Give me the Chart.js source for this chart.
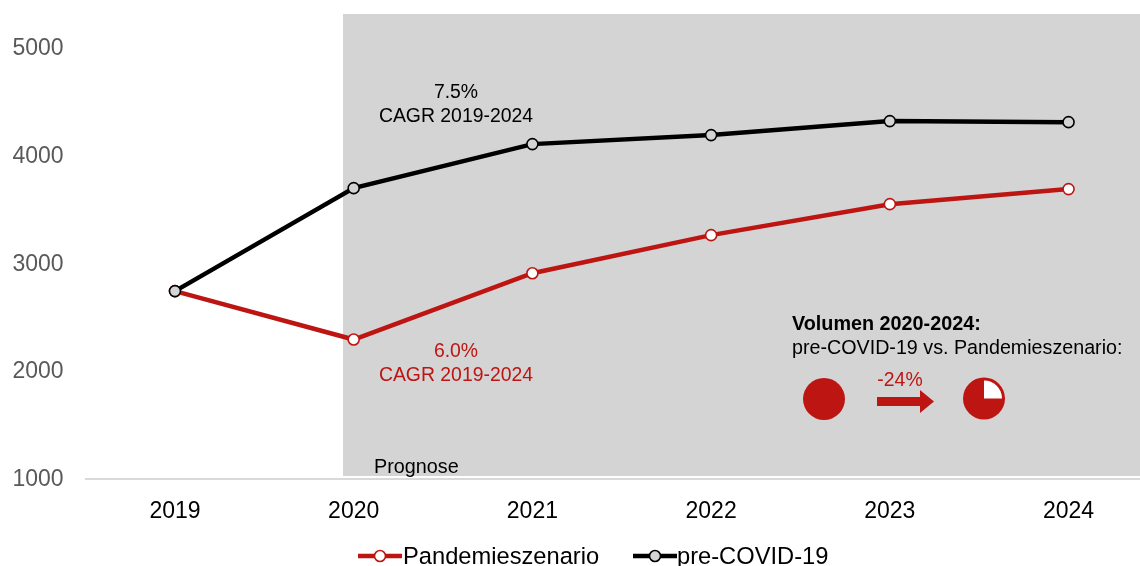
<!DOCTYPE html>
<html>
<head>
<meta charset="utf-8">
<script src="https://cdn.jsdelivr.net/npm/chart.js@4"></script>
<style>
    html, body { margin: 0; padding: 0; background: #fff; overflow: hidden; }
    #wrap { position: relative; width: 1165px; height: 566px; }
</style>
</head>
<body>
<div id="wrap"><canvas id="chart" width="1165" height="566"></canvas></div>
<script>
const years = ["2019", "2020", "2021", "2022", "2023", "2024"];
const pandemie = [2750, 2300, 2916, 3270, 3558, 3698];
const preCovid = [2750, 3707, 4116, 4200, 4330, 4320];
const yTicks = [1000, 2000, 3000, 4000, 5000];

const RED = "#bd1512";
const GREY = "#d4d4d4";
const FONT = "'Liberation Sans', Arial, sans-serif";

function label(g, text, x, y, color, align, size, weight) {
    g.font = (weight || "") + " " + size + "px " + FONT;
    g.fillStyle = color;
    g.textAlign = align;
    g.textBaseline = "middle";
    g.fillText(text, x, y);
}

// legend entry: short line, marker in the middle, then the name
function legendItem(g, ds, x, y, textX) {
    g.strokeStyle = ds.borderColor;
    g.lineWidth = ds.borderWidth;
    g.beginPath();
    g.moveTo(x, y);
    g.lineTo(x + 44, y);
    g.stroke();
    g.fillStyle = ds.pointBackgroundColor;
    g.lineWidth = ds.pointBorderWidth;
    g.beginPath();
    g.arc(x + 22, y, ds.pointRadius, 0, Math.PI * 2);
    g.fill();
    g.stroke();
    label(g, ds.label, textX, y + 1, "#000", "left", 23.7);
}

// grey forecast band goes behind the lines
const band = {
    id: "band",
    beforeDatasetsDraw(chart) {
        const g = chart.ctx;
        g.save();
        g.fillStyle = GREY;
        g.fillRect(343, 14, 822, 462);
        g.restore();
    }
};

// notes, legend and the little volume comparison on top
const notes = {
    id: "notes",
    afterDatasetsDraw(chart) {
        const g = chart.ctx;
        g.save();
        label(g, "7.5%", 456, 93, "#000", "center", 19.4);
        label(g, "CAGR 2019-2024", 456, 117, "#000", "center", 19.4);
        label(g, "6.0%", 456, 352, RED, "center", 19.4);
        label(g, "CAGR 2019-2024", 456, 376, RED, "center", 19.4);
        label(g, "Prognose", 374, 468, "#000", "left", 19.8);
        label(g, "Volumen 2020-2024:", 792, 325, "#000", "left", 19.8, "bold");
        label(g, "pre-COVID-19 vs. Pandemieszenario:", 792, 349, "#000", "left", 19.7);
        label(g, "-24%", 900, 381, RED, "center", 19.4);

        g.fillStyle = RED;
        g.beginPath();
        g.arc(824, 399, 21, 0, Math.PI * 2);
        g.fill();
        g.beginPath();
        g.arc(984, 398.5, 21, 0, Math.PI * 2);
        g.fill();
        g.fillStyle = "#fff";
        g.beginPath();
        g.moveTo(984, 398.5);
        g.arc(984, 398.5, 18, -Math.PI / 2, 0);
        g.closePath();
        g.fill();

        // arrow
        g.fillStyle = RED;
        g.beginPath();
        g.moveTo(877, 397);
        g.lineTo(920, 397);
        g.lineTo(920, 390);
        g.lineTo(934, 401.5);
        g.lineTo(920, 413);
        g.lineTo(920, 406);
        g.lineTo(877, 406);
        g.closePath();
        g.fill();

        const sets = chart.data.datasets;
        legendItem(g, sets[0], 358, 556, 403);
        legendItem(g, sets[1], 633, 556, 677);
        g.restore();
    }
};

new Chart(document.getElementById("chart"), {
    type: "line",
    data: {
        labels: years,
        datasets: [
            {
                label: "Pandemieszenario",
                data: pandemie,
                order: 2,
                borderColor: RED,
                borderWidth: 4.5,
                pointBackgroundColor: "#fff",
                pointBorderColor: RED,
                pointBorderWidth: 1.6,
                pointRadius: 5.5,
                tension: 0
            },
            {
                label: "pre-COVID-19",
                data: preCovid,
                order: 1,
                borderColor: "#000",
                borderWidth: 4.5,
                pointBackgroundColor: GREY,
                pointBorderColor: "#000",
                pointBorderWidth: 1.6,
                pointRadius: 5.5,
                tension: 0
            }
        ]
    },
    plugins: [band, notes],
    options: {
        responsive: false,
        animation: false,
        layout: { padding: { top: 49, right: 1.6, bottom: 23, left: 0 } },
        plugins: {
            tooltip: { enabled: false },
            legend: { display: false }
        },
        scales: {
            x: {
                offset: true,
                grid: { display: false, drawTicks: false },
                border: { color: "#d9d9d9", width: 2 },
                ticks: {
                    color: "#000",
                    font: { family: FONT, size: 23 },
                    padding: 18,
                    maxRotation: 0
                }
            },
            y: {
                min: 1000,
                max: 5000,
                afterBuildTicks(axis) {
                    axis.ticks = yTicks.map(v => ({ value: v }));
                },
                afterFit(axis) {
                    axis.width = 85.6;
                },
                grid: { display: false, drawTicks: false },
                border: { display: false },
                ticks: {
                    color: "#595959",
                    font: { family: FONT, size: 23 },
                    padding: 22,
                    callback: v => String(v)
                }
            }
        }
    }
});
</script>
</body>
</html>
